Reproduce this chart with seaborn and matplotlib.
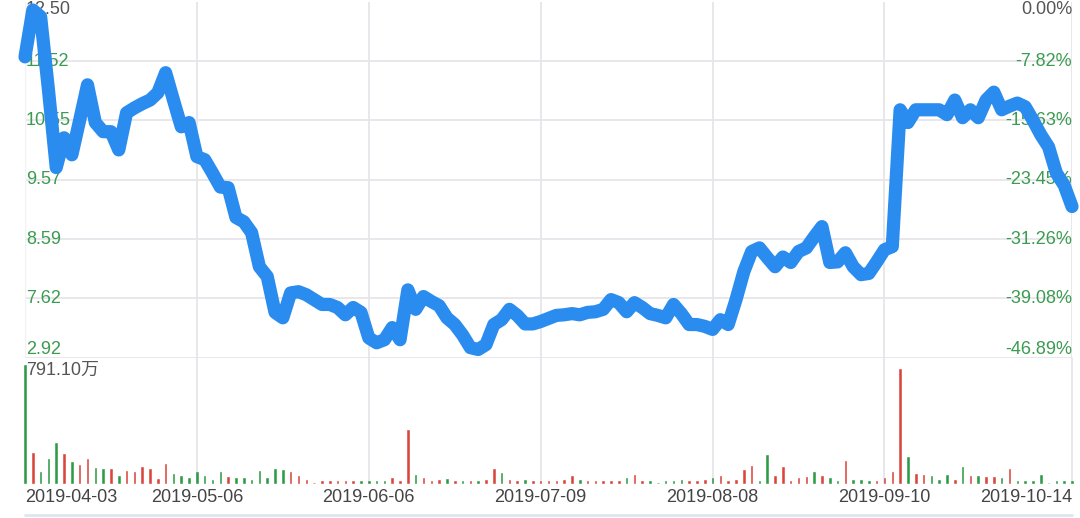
import matplotlib
matplotlib.use("Agg")
import pandas as pd
import seaborn as sns
import matplotlib.pyplot as plt
from matplotlib.lines import Line2D

# closing price, one value per trading day
price = [
    11.59, 12.36, 12.25, 11.05, 9.77, 10.26, 9.98, 10.55, 11.13, 10.51,
    10.36, 10.36, 10.06, 10.67, 10.75, 10.82, 10.88, 11.00, 11.33, 10.88,
    10.44, 10.51, 9.95, 9.90, 9.68, 9.45, 9.44, 8.95, 8.88, 8.70,
    8.14, 7.98, 7.39, 7.30, 7.71, 7.73, 7.68, 7.60, 7.52, 7.52,
    7.47, 7.35, 7.47, 7.39, 6.97, 6.89, 6.94, 7.14, 6.94, 7.76,
    7.44, 7.65, 7.57, 7.50, 7.30, 7.19, 7.02, 6.81, 6.78, 6.86,
    7.19, 7.27, 7.44, 7.34, 7.20, 7.20, 7.24, 7.29, 7.34, 7.35,
    7.37, 7.35, 7.39, 7.40, 7.44, 7.60, 7.55, 7.40, 7.55, 7.47,
    7.37, 7.34, 7.30, 7.52, 7.37, 7.19, 7.19, 7.16, 7.11, 7.27,
    7.19, 7.60, 8.06, 8.39, 8.45, 8.29, 8.14, 8.30, 8.21, 8.39,
    8.45, 8.63, 8.80, 8.21, 8.22, 8.37, 8.14, 8.01, 8.03, 8.22,
    8.42, 8.47, 10.72, 10.51, 10.72, 10.72, 10.72, 10.72, 10.64, 10.88,
    10.59, 10.72, 10.59, 10.88, 11.01, 10.72, 10.78, 10.83, 10.77, 10.55,
    10.31, 10.11, 9.68, 9.48, 9.13,
]

# volume in 万 shares
volume = [
    791.1, 196, 68, 158, 265, 192, 141, 120, 158, 95,
    90, 90, 45, 79, 74, 106, 90, 23, 126, 56,
    41, 27, 68, 41, 18, 68, 34, 32, 27, 18,
    79, 29, 90, 86, 70, 41, 14, 0, 8, 8,
    8, 8, 8, 8, 8, 8, 8, 29, 8, 352,
    52, 29, 10, 18, 25, 8, 10, 8, 10, 14,
    90, 63, 20, 8, 18, 10, 8, 10, 8, 14,
    45, 14, 8, 8, 8, 8, 8, 29, 52, 8,
    8, 0, 8, 8, 20, 8, 8, 20, 29, 41,
    10, 14, 86, 113, 10, 182, 41, 104, 10, 29,
    36, 68, 45, 29, 10, 142, 20, 14, 10, 10,
    29, 68, 763, 169, 59, 52, 41, 14, 52, 14,
    104, 41, 41, 36, 36, 29, 90, 10, 10, 10,
    52, 0, 10, 10, 12,
]

# r = up day, g = down day
vol_dir = list(
    "grgggrgrrg" "grgrrrrrrg" "ggggggrggg" "ggggrrrrrr" "rrrggggrrr"
    "grrrgrgrgr" "rgrrgrrrrr" "rgrrrrrgrr" "gggggrrrgr" "rrrrggrrrr"
    "rgrggrgggr" "rrrgrrgggr" "grgrrgrggg" "ggggg"
)

date_labels = ["2019-04-03", "2019-05-06", "2019-06-06", "2019-07-09",
               "2019-08-08", "2019-09-10", "2019-10-14"]
price_ticks = [12.50, 11.52, 10.55, 9.57, 8.59, 7.62, 6.64]
price_labels = ["12.50", "11.52", "10.55", "9.57", "8.59", "7.62", "2.92"]
pct_labels = ["0.00%", "-7.82%", "-15.63%", "-23.45%", "-31.26%", "-39.08%", "-46.89%"]
vol_max_label = "791.10万"

df = pd.DataFrame({"day": range(len(price)), "price": price,
                   "volume": volume, "dir": vol_dir})
n = len(df)
step = 22

sns.set_theme(style="white")
plt.rcParams["font.family"] = ["Liberation Sans", "Noto Sans CJK SC", "DejaVu Sans"]

GREEN_TXT = "#3b9b50"
GRAY_TXT = "#555555"
GRID = "#e6e6ea"

fig = plt.figure(figsize=(10.8, 5.18), dpi=100)
W, H = 1080, 518
ax_p = fig.add_axes([25 / W, 1 - 358 / H, 1047 / W, 356.5 / H])
ax_v = fig.add_axes([25 / W, 1 - 482.5 / H, 1047 / W, 117.5 / H])

for ax in (ax_p, ax_v):
    ax.set_xlim(0, n - 1)
    ax.set_xticks([])
    ax.set_yticks([])
    for s in ax.spines.values():
        s.set_visible(False)
    ax.set_facecolor("none")

ax_p.set_ylim(price_ticks[-1], price_ticks[0])
ax_v.set_ylim(0, max(volume))

# grid
for t in price_ticks[1:]:
    ax_p.axhline(t, color=GRID, lw=1.3, zorder=0)
for k in range(step, n - 1 - step // 2, step):
    ax_p.axvline(k, color=GRID, lw=1.3, zorder=0)
    ax_v.axvline(k, ymin=0, ymax=1 + 7 / 117.5, color=GRID, lw=1.3, zorder=0, clip_on=False)
ax_p.axvline(n - 1, color=GRID, lw=1.3, zorder=0)
ax_v.axvline(n - 1, ymin=0, ymax=1 + 7 / 117.5, color=GRID, lw=1.3, zorder=0, clip_on=False)
ax_p.axvline(0, color="#f2f2f4", lw=1.0, zorder=0)
fig.add_artist(Line2D([25 / W, 1072 / W], [1 - 515 / H, 1 - 515 / H],
                      color="#dde5ef", lw=2))

# axis labels inside the plot
bt = ax_p.get_yaxis_transform()
for i, (t, lab, pct) in enumerate(zip(price_ticks, price_labels, pct_labels)):
    va = "top" if i == 0 else ("bottom" if i == len(price_ticks) - 1 else "center")
    col = GRAY_TXT if i == 0 else GREEN_TXT
    ax_p.text(0.001, t, lab, transform=bt, ha="left", va=va, color=col,
              fontsize=13, zorder=1)
    ax_p.text(1.0, t, pct, transform=bt, ha="right", va=va, color=col,
              fontsize=13, zorder=1)

# price line
sns.lineplot(data=df, x="day", y="price", ax=ax_p, color="#2b8cf0", lw=9.5,
             zorder=3, solid_joinstyle="round", solid_capstyle="round", clip_on=False)
ax_p.set_xlabel("")
ax_p.set_ylabel("")

# volume bars
colors = df["dir"].map({"r": "#d9443b", "g": "#2f9a45"})
ax_v.bar(df["day"], df["volume"], width=0.2, color=colors, edgecolor=colors,
         linewidth=0.4, zorder=2, clip_on=False)
ax_v.text(0.001, 0.955, vol_max_label, transform=ax_v.transAxes, ha="left",
          va="center", color=GRAY_TXT, fontsize=13, zorder=3)

# date labels
dt = ax_v.get_xaxis_transform()
positions = list(range(0, n - step // 2, step))[:len(date_labels) - 1] + [n - 1]
for j, (pos, lab) in enumerate(zip(positions, date_labels)):
    ha = "left" if j == 0 else ("right" if j == len(date_labels) - 1 else "center")
    ax_v.text(pos, -0.125, lab, transform=dt, ha=ha, va="center",
              color="#444444", fontsize=13)

fig.savefig("out.png", dpi=100, facecolor="white")
